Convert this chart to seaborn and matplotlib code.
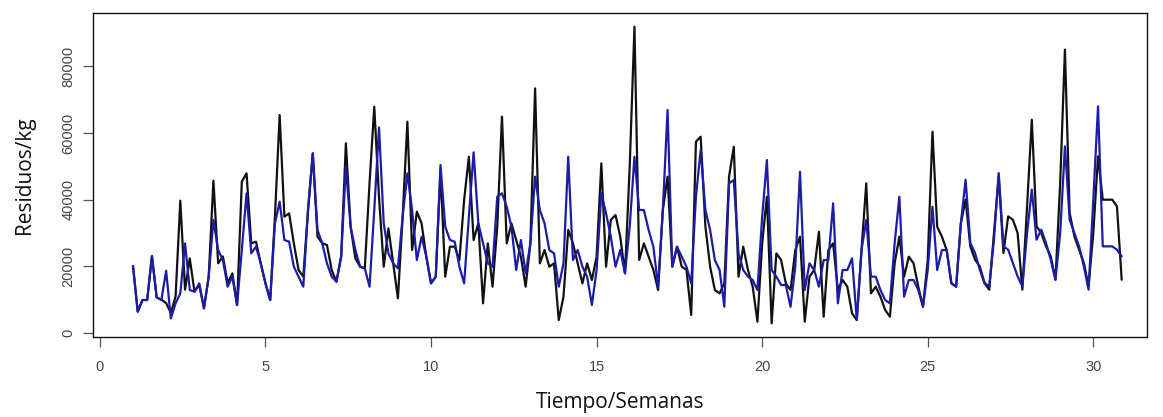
import numpy as np
import pandas as pd
import matplotlib
matplotlib.use("Agg")
import matplotlib.pyplot as plt
import seaborn as sns

# observed (black) and fitted (blue) daily residue weights, kg
observado = [
    20100, 6400, 9900, 9900, 23100, 10700, 10000, 9000, 6000, 11000,
    39700, 13000, 22400, 12400, 14400, 7400, 16900, 45700, 20900, 23000,
    15000, 17900, 8400, 45400, 47900, 26900, 27400, 20900, 14900, 9900,
    34900, 65400, 34900, 35900, 26900, 18900, 16900, 36900, 53900, 28900,
    26900, 26400, 18900, 15400, 22900, 56900, 31900, 22400, 19900, 19400,
    45000, 67900, 40900, 19900, 31400, 20900, 10400, 34900, 63400, 24900,
    36400, 32900, 22900, 14900, 16900, 48900, 16900, 25900, 25900, 21900,
    40000, 52900, 27900, 32900, 8900, 26900, 13900, 31900, 64900, 26900,
    32900, 27900, 22900, 13900, 26900, 73400, 20900, 24900, 19900, 20900,
    3900, 10900, 30900, 26900, 20900, 14900, 20900, 15900, 22900, 50900,
    19900, 33900, 35400, 28900, 17900, 50000, 91900, 21900, 26900, 22900,
    18900, 12900, 36900, 46900, 19900, 25900, 19900, 19000, 5400, 57400,
    58900, 31900, 19900, 12900, 11900, 14900, 46900, 55900, 16900, 25900,
    18900, 13900, 3400, 26900, 40900, 2900, 23900, 21900, 14900, 12900,
    24900, 28900, 3400, 16900, 18900, 30400, 4900, 24900, 26900, 12900,
    15900, 13900, 5900, 3900, 24900, 44900, 11900, 13900, 10900, 6900,
    4900, 20900, 28900, 16900, 22900, 20900, 13900, 7900, 21900, 60400,
    31900, 28900, 24900, 14900, 13900, 32900, 40000, 26000, 22000, 20000,
    15000, 13000, 30000, 47000, 24000, 35000, 34000, 30000, 13000, 38000,
    64000, 32000, 30000, 26000, 23000, 16000, 45000, 85000, 36000, 29000,
    25000, 21000, 14000, 30000, 53000, 40000, 40000, 40000, 38000, 16000,
]
ajustado = [
    20100, 6400, 9900, 9900, 23100, 10700, 9900, 18700, 4400, 8900,
    11900, 26900, 12900, 12400, 14900, 7400, 16900, 33900, 24900, 21900,
    13900, 16900, 8400, 24900, 41900, 23900, 25900, 20900, 14900, 9900,
    32900, 39400, 27900, 27400, 19900, 16900, 13900, 36900, 53900, 30900,
    26900, 20900, 16900, 15400, 22900, 49900, 31900, 24900, 19900, 19400,
    13900, 36900, 61700, 32900, 23900, 20900, 19400, 34900, 47900, 36900,
    21900, 28900, 22900, 14900, 16900, 50400, 31900, 27900, 27400, 19900,
    14900, 34900, 54200, 32900, 26900, 20900, 19900, 40900, 41900, 37900,
    31900, 18900, 27900, 17900, 26900, 46900, 36900, 32900, 24900, 23900,
    13900, 20900, 52900, 21900, 24900, 19900, 16900, 8400, 18900, 41900,
    35900, 28900, 19900, 24900, 17900, 31900, 52900, 36900, 36900, 30900,
    25900, 13900, 36900, 66900, 19900, 25900, 22900, 19900, 14900, 40900,
    54900, 36900, 30900, 21900, 18900, 7900, 44900, 45900, 23900, 18900,
    16900, 15900, 12900, 34900, 51900, 18900, 16900, 14400, 14400, 7900,
    19900, 48400, 12900, 20900, 18900, 13900, 21900, 21900, 38900, 8900,
    18900, 18900, 22400, 3900, 24900, 33900, 16900, 16900, 12900, 9900,
    8900, 26900, 40900, 10900, 15900, 15900, 12900, 7900, 18900, 37900,
    18900, 24900, 24900, 14900, 13900, 32900, 46000, 27000, 24000, 19000,
    15000, 14000, 28000, 48000, 26000, 25000, 21000, 17000, 14000, 30000,
    43000, 28000, 31000, 27000, 22000, 16000, 30000, 56000, 34000, 30000,
    26000, 20000, 13000, 40000, 68000, 26000, 26000, 26000, 25000, 23000,
]

n = len(observado)
tiempo = [1 + k / 7 for k in range(n)]

df = pd.DataFrame({
    "Tiempo": tiempo * 2,
    "Residuos": observado + ajustado,
    "Serie": ["Observado"] * n + ["Ajustado"] * n,
})

sns.set_style("white")
plt.rcParams["font.family"] = ["Liberation Sans", "DejaVu Sans"]

fig = plt.figure(figsize=(11.63, 4.17), dpi=100)
ax = fig.add_axes([0.0802, 0.191, 0.906, 0.777])

sns.lineplot(data=df, x="Tiempo", y="Residuos", hue="Serie",
             hue_order=["Observado", "Ajustado"],
             palette={"Observado": "#111111", "Ajustado": "#1c1ca8"},
             linewidth=1.6, legend=False, ax=ax, estimator=None, sort=False)

ax.set_xlim(-0.2, 31.62)
ax.set_ylim(-1300, 95900)
ax.set_xticks([0, 5, 10, 15, 20, 25, 30])
ax.set_yticks([0, 20000, 40000, 60000, 80000])
ax.set_yticklabels(["0", "20000", "40000", "60000", "80000"],
                   rotation=90, va="center")
ax.tick_params(axis="both", direction="out", length=7, width=0.9,
               color="#555555", labelcolor="#444444", labelsize=10.5,
               bottom=True, left=True)
ax.tick_params(axis="x", pad=9)
ax.tick_params(axis="y", pad=6)
for s in ax.spines.values():
    s.set_color("#111111")
    s.set_linewidth(1.0)

ax.set_xlabel("Tiempo/Semanas", fontsize=15, family=["Open Sans", "DejaVu Sans"],
              labelpad=13, color="#111111")
ax.set_ylabel("Residuos/kg", fontsize=15, family=["Open Sans", "DejaVu Sans"],
              labelpad=19, color="#111111")

fig.savefig("out.png", dpi=100, facecolor="white")
